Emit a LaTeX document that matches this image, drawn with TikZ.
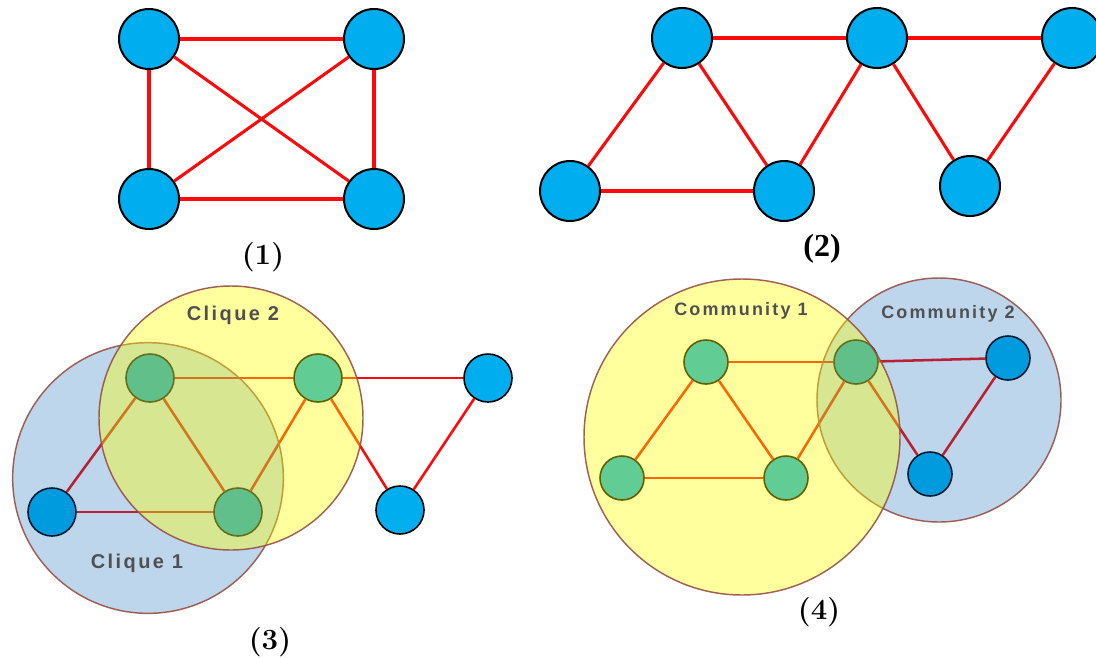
\documentclass[tikz,border=0pt]{standalone}
\usepackage{fontspec}
\newfontfamily\tagfont[LetterSpace=12]{Liberation Sans}
\newfontfamily\timesfont{Liberation Serif}
\definecolor{nodecyan}{RGB}{0,174,239}
\definecolor{edgered}{RGB}{250,10,10}
\definecolor{ringbrown}{RGB}{150,80,70}
\definecolor{hiyellow}{RGB}{255,255,0}
\definecolor{hiblue}{RGB}{0,98,176}
\definecolor{tagtext}{RGB}{80,80,80}
\tikzset{
  v/.style={circle, draw=black, line width=1.5pt, fill=nodecyan, minimum size=45pt, inner sep=0pt},
  vs/.style={v, line width=1.2pt, minimum size=36pt},
  vt/.style={v, line width=1.2pt, minimum size=33pt},
  link/.style={draw=edgered, line width=2.3pt},
  linkthin/.style={draw=edgered, line width=1.9pt},
  ringY/.style={fill=hiyellow, fill opacity=0.38, draw=ringbrown, draw opacity=0.9, line width=1.1pt},
  ringB/.style={fill=hiblue, fill opacity=0.26, draw=ringbrown, draw opacity=0.9, line width=1.1pt},
  tag/.style={text=tagtext, font=\tagfont\bfseries\fontsize{15}{17}\selectfont},
  tagsmall/.style={tag, font=\tagfont\bfseries\fontsize{13.5}{15}\selectfont},
  caption/.style={font=\bfseries\fontsize{22}{26}\selectfont},
}
\begin{document}
\begin{tikzpicture}[x=0.75pt, y=-0.75pt]
\useasboundingbox (0,0) rectangle (1096,657);

% (1) complete graph on four vertices
\node[v] (a1) at (149,39) {};
\node[v] (a2) at (374,39) {};
\node[v] (a3) at (149,199) {};
\node[v] (a4) at (374,199) {};
\draw[link] (a1) -- (a2);
\draw[link] (a3) -- (a4);
\draw[link] (a1) -- (a3);
\draw[link] (a2) -- (a4);
\draw[link] (a1) -- (a4);
\draw[link] (a2) -- (a3);
\node[caption] (cap1) at (263,257) {(1)};

% (2) chain of triangles
\node[v] (b1) at (682,38) {};
\node[v] (b2) at (877,38) {};
\node[v] (b3) at (1072,38) {};
\node[v] (b4) at (570,191) {};
\node[v] (b5) at (784,191) {};
\node[v] (b6) at (970,186) {};
\draw[link] (b1) -- (b2);
\draw[link] (b2) -- (b3);
\draw[link] (b4) -- (b5);
\draw[link] (b1) -- (b4);
\draw[link] (b1) -- (b5);
\draw[link] (b5) -- (b2);
\draw[link] (b2) -- (b6);
\draw[link] (b6) -- (b3);
\node[font=\timesfont\bfseries\fontsize{24}{28}\selectfont] (cap2) at (822,249) {(2)};

% (3) overlapping cliques
\node[vs] (c1) at (150,378) {};
\node[vs] (c2) at (318,378) {};
\node[vs] (c3) at (238,512) {};
\node[vs] (c4) at (52,512) {};
\node[vs] (c5) at (488,378) {};
\node[vs] (c6) at (400,510) {};
\draw[linkthin] (c1) -- (c2);
\draw[linkthin] (c1) -- (c3);
\draw[linkthin] (c2) -- (c3);
\draw[linkthin] (c4) -- (c1);
\draw[linkthin] (c4) -- (c3);
\draw[linkthin] (c2) -- (c5);
\draw[linkthin] (c2) -- (c6);
\draw[linkthin] (c5) -- (c6);
\path[ringB] (148,478) circle[radius=101.5pt];
\path[ringY] (231,418) circle[radius=99pt];
\node[tag] (q2) at (233,315) {Clique 2};
\node[tag] (q1) at (137,563) {Clique 1};
\node[caption] (cap3) at (270,642) {(3)};

% (4) overlapping communities
\node[vt] (d1) at (706,362) {};
\node[vt] (d2) at (856,362) {};
\node[vt] (d3) at (622,478) {};
\node[vt] (d4) at (786,478) {};
\node[vt] (d5) at (1008,358) {};
\node[vt] (d6) at (930,474) {};
\draw[linkthin] (d1) -- (d2);
\draw[linkthin] (d1) -- (d3);
\draw[linkthin] (d1) -- (d4);
\draw[linkthin] (d3) -- (d4);
\draw[linkthin] (d4) -- (d2);
\draw[linkthin] (d2) -- (d5);
\draw[linkthin] (d2) -- (d6);
\draw[linkthin] (d5) -- (d6);
\path[ringB] (939,400) circle[radius=91.5pt];
\path[ringY] (742,437) circle[radius=118.5pt];
\node[tagsmall] (m1) at (741,311) {Community 1};
\node[tagsmall] (m2) at (948,314) {Community 2};
\node[caption] (cap4) at (819,612) {(4)};
\end{tikzpicture}
\end{document}
